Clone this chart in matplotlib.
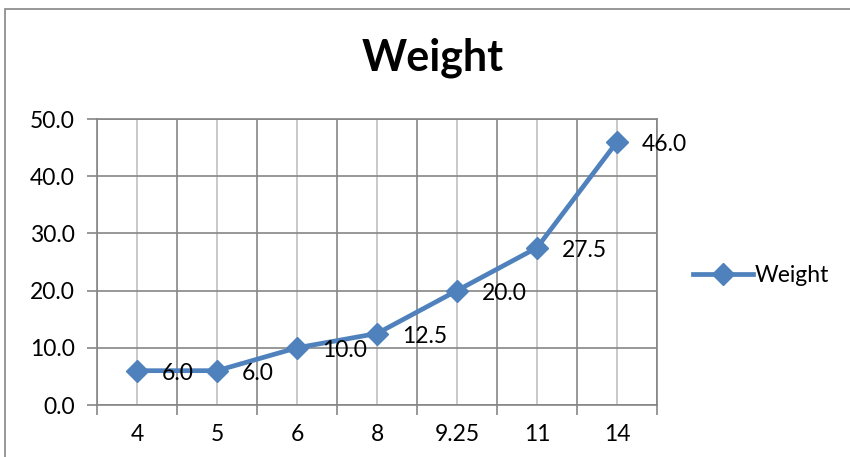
import matplotlib.pyplot as plt
from matplotlib.patches import Rectangle

# chart data
categories = ['4', '5', '6', '8', '9.25', '11', '14']
weight = [6.0, 6.0, 10.0, 12.5, 20.0, 27.5, 46.0]
y_ticks = [0, 10, 20, 30, 40, 50]

plt.rcParams['font.family'] = ['Lato', 'DejaVu Sans']

blue = '#4F81BD'
grid_dark = '#868686'
grid_light = '#C0C0C0'
fs = 16.5

fig = plt.figure(figsize=(8.5, 4.57), dpi=100)
ax = fig.add_axes([97 / 850, 52 / 457, 560 / 850, 286 / 457])

# outer chart border
fig.add_artist(Rectangle((5 / 850, -0.05), 1.0, (457 - 9) / 457 + 0.05,
                         transform=fig.transFigure, fill=False,
                         edgecolor=grid_dark, linewidth=1.2))

x = list(range(len(categories)))
ax.plot(x, weight, color=blue, linewidth=3.4, marker='D', markersize=11,
        label='Weight')

for xi, v in zip(x, weight):
    ax.annotate(f'{v:.1f}', (xi, v), xytext=(18, -2), textcoords='offset points',
                ha='left', va='center', fontsize=fs, color='black')

ax.set_xlim(-0.5, len(categories) - 0.5)
ax.set_ylim(0, 50)
ax.set_yticks(y_ticks)
ax.set_yticklabels([f'{t:.1f}' for t in y_ticks], fontsize=fs)

# major ticks at category boundaries, labels at centers
ax.set_xticks([i - 0.5 for i in range(len(categories) + 1)])
ax.set_xticklabels([])
ax.set_xticks(x, minor=True)
ax.set_xticklabels(categories, minor=True, fontsize=fs)
ax.tick_params(axis='x', which='major', length=7, color=grid_dark, width=1.2)
ax.tick_params(axis='x', which='minor', length=0, pad=14)
ax.tick_params(axis='y', length=7, color=grid_dark, width=1.2, pad=9)

ax.grid(True, which='major', color=grid_dark, linewidth=1.2)
ax.grid(True, which='minor', axis='x', color=grid_light, linewidth=1.2)
ax.set_axisbelow(True)
for s in ax.spines.values():
    s.set_color(grid_dark)
    s.set_linewidth(1.2)

fig.text(433 / 850, 1 - 58 / 457, 'Weight', ha='center', va='center',
         fontsize=31, fontweight='bold')

ax.legend(loc='center left', bbox_to_anchor=((693 - 97) / 560, 129 / 286),
          frameon=False, fontsize=fs, handlelength=2.6, handletextpad=0.1,
          borderaxespad=0, borderpad=0)

fig.savefig('out.png', dpi=100)
